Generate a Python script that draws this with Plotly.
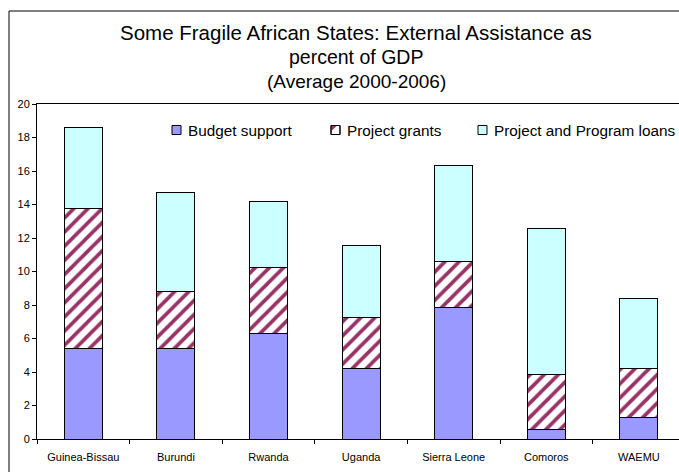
import plotly.graph_objects as go

countries = ["Guinea-Bissau", "Burundi", "Rwanda", "Uganda", "Sierra Leone", "Comoros", "WAEMU"]
budget_support = [5.39, 5.40, 6.31, 4.21, 7.84, 0.56, 1.28]
project_grants = [8.38, 3.40, 3.95, 3.04, 2.76, 3.27, 2.91]
program_loans = [4.81, 5.93, 3.93, 4.32, 5.72, 8.74, 4.17]

series_names = ["Budget support", "Project grants", "Project and Program loans"]
y_ticks = list(range(0, 21, 2))

FONT = "Liberation Sans, Arial, sans-serif"
BUDGET_COLOR = "#9999FF"
GRANT_COLOR = "#993366"
LOAN_COLOR = "#CCFFFF"
outline = dict(color="#000000", width=1)

fig = go.Figure()
fig.add_trace(go.Bar(
    x=countries, y=budget_support, name=series_names[0],
    marker=dict(color=BUDGET_COLOR, line=outline),
))
fig.add_trace(go.Bar(
    x=countries, y=project_grants, name=series_names[1],
    marker=dict(color="#FFFFFF", line=outline,
                pattern=dict(shape="/", fgcolor=GRANT_COLOR, bgcolor="#FFFFFF",
                             size=10, solidity=0.38, fgopacity=1)),
))
fig.add_trace(go.Bar(
    x=countries, y=program_loans, name=series_names[2],
    marker=dict(color=LOAN_COLOR, line=outline),
))

# plot area: x 37..679 px, y 104..439 px
L, T, B = 37, 104, 33
W, H = 679, 472
pw, ph = W - L, H - T - B


def px_x(p):
    return (p - L) / pw


def px_y(p):
    return (H - B - p) / ph


title_lines = [
    ("Some Fragile African States: External Assistance as", 20.5, 32),
    ("percent of GDP", 19.5, 57),
    ("(Average 2000-2006)", 19, 81),
]
for text, size, yc in title_lines:
    fig.add_annotation(text=text, xref="paper", yref="paper",
                       x=px_x(356), y=px_y(yc), xanchor="center", yanchor="middle",
                       showarrow=False, font=dict(family=FONT, size=size, color="#000000"))

# outer chart frame
fig.add_shape(type="rect", xref="paper", yref="paper",
              x0=px_x(9), x1=px_x(700), y0=px_y(490), y1=px_y(11),
              line=dict(color="#000000", width=1), fillcolor="rgba(0,0,0,0)", layer="below")

# legend row: small square keys followed by labels
legend_y = 130
key = 9
legend_items = [
    (172, 186, BUDGET_COLOR),
    (331, 345, "#FFFFFF"),
    (478, 492, LOAN_COLOR),
]
for (kx, tx, color), label in zip(legend_items, series_names):
    fig.add_shape(type="rect", xref="paper", yref="paper",
                  x0=px_x(kx), x1=px_x(kx + key),
                  y0=px_y(legend_y + key / 2), y1=px_y(legend_y - key / 2),
                  line=dict(color="#000000", width=1), fillcolor=color)
    if color == "#FFFFFF":
        # hatch hint inside the grants key
        x0, y0 = kx, legend_y - key / 2
        path = (f"M {px_x(x0)},{px_y(y0)} L {px_x(x0 + 6)},{px_y(y0)} "
                f"L {px_x(x0)},{px_y(y0 + 6)} Z")
        fig.add_shape(type="path", xref="paper", yref="paper", path=path,
                      line=dict(width=0), fillcolor=GRANT_COLOR)
        fig.add_shape(type="rect", xref="paper", yref="paper",
                      x0=px_x(kx), x1=px_x(kx + key),
                      y0=px_y(legend_y + key / 2), y1=px_y(legend_y - key / 2),
                      line=dict(color="#000000", width=1), fillcolor="rgba(0,0,0,0)")
    fig.add_annotation(text=label, xref="paper", yref="paper",
                       x=px_x(tx), y=px_y(legend_y), xanchor="left", yanchor="middle",
                       showarrow=False, font=dict(family=FONT, size=15.3, color="#000000"))

fig.update_layout(
    width=W, height=H,
    margin=dict(l=L, r=0, t=T, b=B, pad=0),
    barmode="stack", bargap=0.59,
    paper_bgcolor="#FFFFFF", plot_bgcolor="#FFFFFF",
    font=dict(family=FONT, size=11, color="#000000"),
    showlegend=False,
    xaxis=dict(type="category", range=[-0.5, -0.5 + 7 * pw / 648.2],
               showline=True, mirror=True, linecolor="#000000", linewidth=1,
               ticks="outside", tickson="boundaries", ticklen=4, tickcolor="#000000",
               ticklabelstandoff=8,
               showgrid=False, tickfont=dict(size=11)),
    yaxis=dict(range=[0, 20], tickvals=y_ticks, showline=True, linecolor="#000000",
               linewidth=1, ticks="outside", ticklen=4, tickcolor="#000000",
               showgrid=False, zeroline=False, tickfont=dict(size=11)),
)

fig.write_html("out.html")
